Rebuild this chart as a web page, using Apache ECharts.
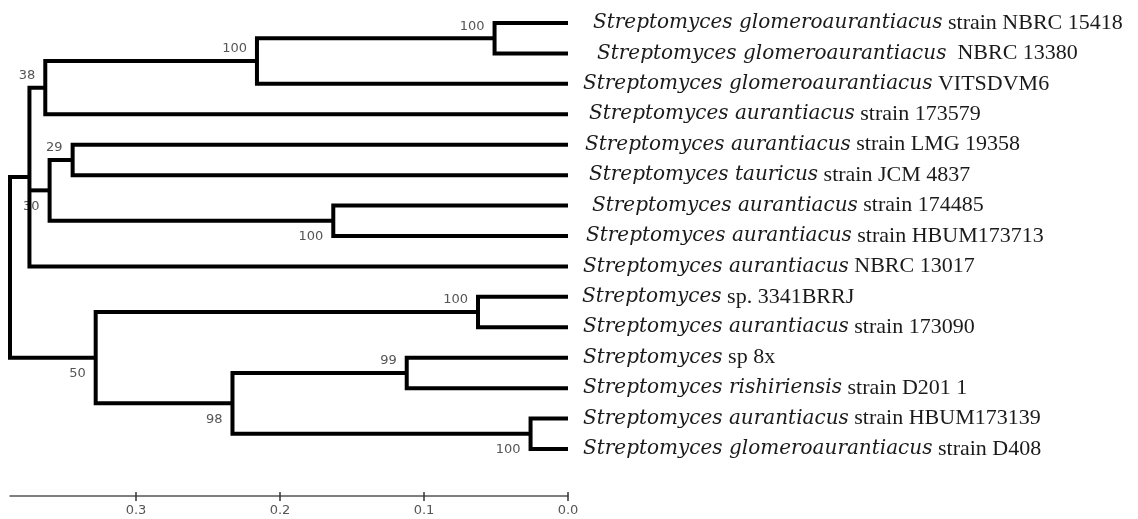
<!DOCTYPE html>
<html><head><meta charset="utf-8">
<script src="https://cdn.jsdelivr.net/npm/echarts@6/dist/echarts.min.js"></script>
<style>html,body{margin:0;padding:0;background:#fff}#c{width:1138px;height:519px}</style>
</head><body><div id="c"></div>
<script>
// ---- data ----
const leafSpecies = [
  "Streptomyces glomeroaurantiacus",
  "Streptomyces glomeroaurantiacus",
  "Streptomyces glomeroaurantiacus",
  "Streptomyces aurantiacus",
  "Streptomyces aurantiacus",
  "Streptomyces tauricus",
  "Streptomyces aurantiacus",
  "Streptomyces aurantiacus",
  "Streptomyces aurantiacus",
  "Streptomyces",
  "Streptomyces aurantiacus",
  "Streptomyces",
  "Streptomyces rishiriensis",
  "Streptomyces aurantiacus",
  "Streptomyces glomeroaurantiacus"
];
const leafStrain = [
  "strain NBRC 15418",
  " NBRC 13380",
  "VITSDVM6",
  "strain 173579",
  "strain LMG 19358",
  "strain JCM 4837",
  "strain 174485",
  "strain HBUM173713",
  "NBRC 13017",
  "sp. 3341BRRJ",
  "strain 173090",
  "sp 8x",
  "strain D201 1",
  "strain HBUM173139",
  "strain D408"
];
// internal nodes: distance from tips (substitutions/site), children (L# = leaf index)
const nodeNames    = ["A", "B", "C", "D", "E", "F", "H", "J", "L", "M", "K", "I", "root"];
const nodeDistance = [0.051, 0.216, 0.363, 0.344, 0.163, 0.360, 0.374, 0.0625, 0.112, 0.026, 0.233, 0.328, 0.3875];
const nodeChildren = [
  ["L0", "L1"], ["A", "L2"], ["B", "L3"], ["L4", "L5"], ["L6", "L7"], ["D", "E"],
  ["C", "F", "L8"], ["L9", "L10"], ["L11", "L12"], ["L13", "L14"], ["L", "M"], ["J", "K"], ["H", "I"]
];
const nodeSupport = ["100", "100", "38", "29", "100", "30", "", "100", "99", "100", "98", "50", ""];
const tickValues = [0, 0.1, 0.2, 0.3];
const scaleMax = 0.3875;

// ---- style ----
const supportSide = ["above", "above", "above", "above", "below", "below", "", "above", "above", "below", "below", "below", ""];
const labelGap = [25, 29, 15, 21, 17, 21, 24, 18, 15, 14, 15, 15, 15, 15, 15];

// ---- build tree geometry (in data units) ----
const info = {};
leafSpecies.forEach((s, i) => { info["L" + i] = { x: 0, y: i, leaf: i }; });
nodeNames.forEach((n, k) => { info[n] = { x: nodeDistance[k], k: k }; });
function yOf(id) {
  const n = info[id];
  if (n.y !== undefined) return n.y;
  const ch = nodeChildren[n.k];
  n.y = (yOf(ch[0]) + yOf(ch[ch.length - 1])) / 2;
  return n.y;
}
nodeNames.forEach(yOf);

const items = [];
nodeNames.forEach((n) => items.push({ value: [info[n].x, info[n].y], id: n }));
leafSpecies.forEach((s, i) => items.push({ value: [0, i], id: "L" + i }));

const chart = echarts.init(document.getElementById('c'), null, { renderer: 'canvas' });

function renderItem(params, api) {
  const id = items[params.dataIndex].id;
  const n = info[id];
  const p = api.coord([n.x, n.y]);
  const children = [];
  if (n.leaf !== undefined) {
    const i = n.leaf;
    children.push({
      type: 'text',
      x: p[0] + labelGap[i], y: p[1],
      style: {
        text: '{i|' + leafSpecies[i] + '}{r| ' + leafStrain[i] + '}',
        verticalAlign: 'middle', align: 'left',
        rich: {
          i: { fontFamily: 'DejaVu Serif', fontStyle: 'italic', fontSize: 20, fill: '#1a1a1a' },
          r: { fontFamily: 'Liberation Serif', fontSize: 22, fill: '#1a1a1a' }
        }
      }
    });
    return { type: 'group', children: children };
  }
  const ch = nodeChildren[n.k];
  const first = info[ch[0]], last = info[ch[ch.length - 1]];
  const pf = api.coord([first.x, first.y]);
  const pl = api.coord([last.x, last.y]);
  const lineStyle = { stroke: '#000', lineWidth: 4, fill: null, lineJoin: 'miter', lineCap: 'butt' };
  children.push({
    type: 'polyline',
    shape: { points: [[pf[0], pf[1]], [p[0], pf[1]], [p[0], pl[1]], [pl[0], pl[1]]] },
    style: lineStyle
  });
  for (let c = 1; c < ch.length - 1; c++) {
    const m = info[ch[c]];
    const pm = api.coord([m.x, m.y]);
    children.push({ type: 'polyline', shape: { points: [[p[0], pm[1]], [pm[0], pm[1]]] }, style: lineStyle });
  }
  const sup = nodeSupport[n.k];
  if (sup) {
    const above = supportSide[n.k] === 'above';
    children.push({
      type: 'text',
      x: p[0] - 10, y: p[1] + (above ? -12 : 16),
      style: {
        text: sup, align: 'right', verticalAlign: 'middle',
        fontFamily: 'DejaVu Sans', fontSize: 13, fill: '#555'
      }
    });
  }
  return { type: 'group', children: children };
}

const gridRect = { left: 10, right: 570, top: 23, bottom: 70 };
const baseX = {
  type: 'value', min: 0, max: scaleMax, inverse: true,
  position: 'bottom', offset: 47, splitLine: { show: false }
};

chart.setOption({
  animation: false,
  grid: [Object.assign({}, gridRect), Object.assign({}, gridRect)],
  xAxis: [
    Object.assign({}, baseX, {
      gridIndex: 0,
      axisLine: { show: true, onZero: false, lineStyle: { color: '#555', width: 1.5 } },
      axisTick: { show: true, inside: false, length: 5, customValues: tickValues, lineStyle: { color: '#333', width: 1.5 } },
      axisLabel: { show: true, customValues: tickValues, margin: 8, formatter: (v) => v.toFixed(1),
        fontFamily: 'DejaVu Sans', fontSize: 13, color: '#555' }
    }),
    Object.assign({}, baseX, {
      gridIndex: 1,
      axisLine: { show: false, onZero: false },
      axisTick: { show: true, inside: true, length: 4, customValues: tickValues, lineStyle: { color: '#333', width: 1.5 } },
      axisLabel: { show: false }
    })
  ],
  yAxis: [
    { gridIndex: 0, type: 'value', min: 0, max: 14, inverse: true, show: false },
    { gridIndex: 1, type: 'value', min: 0, max: 14, inverse: true, show: false }
  ],
  series: [{
    type: 'custom',
    coordinateSystem: 'cartesian2d',
    xAxisIndex: 0, yAxisIndex: 0,
    clip: false,
    renderItem: renderItem,
    encode: { x: 0, y: 1 },
    data: items.map((d) => d.value)
  }]
});
</script>
</body></html>
